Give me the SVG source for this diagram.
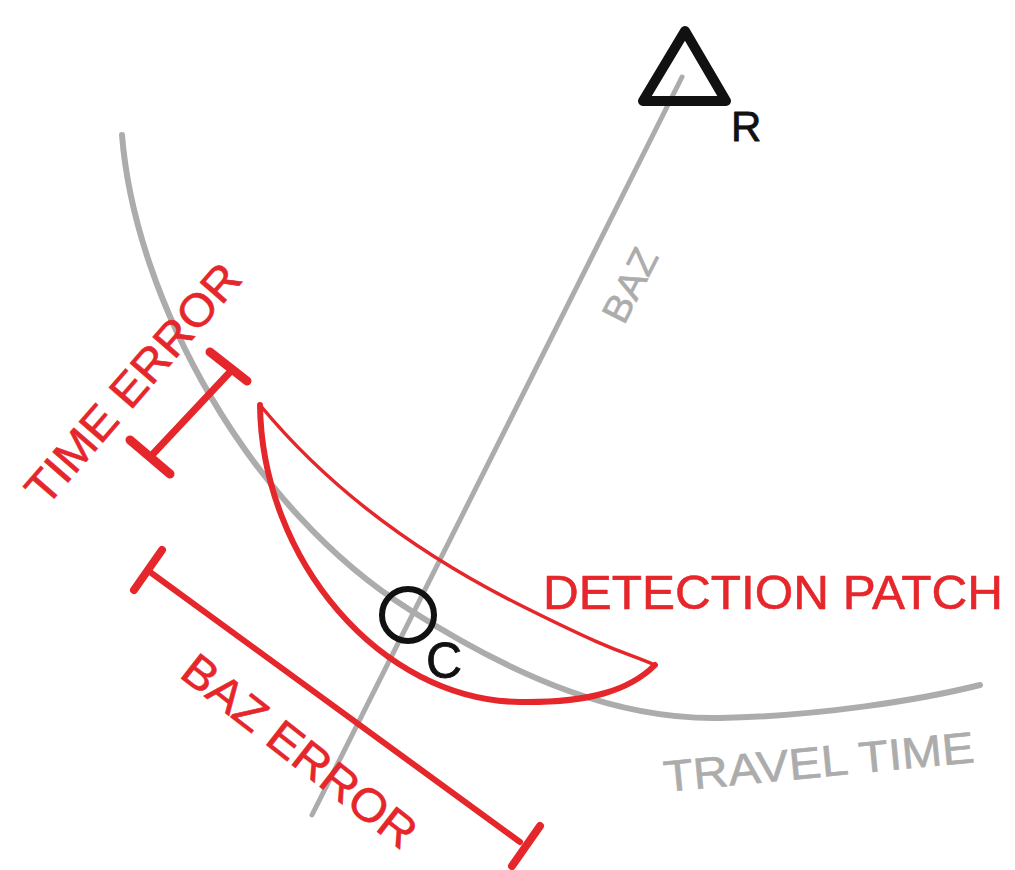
<svg xmlns="http://www.w3.org/2000/svg" width="1015" height="870" viewBox="0 0 1015 870">
<style>
.gray{fill:none;stroke:#acacac;stroke-linecap:round;stroke-linejoin:round}
.red{fill:none;stroke:#e5262b;stroke-linecap:round;stroke-linejoin:round}
.blk{fill:none;stroke:#111;stroke-linecap:round;stroke-linejoin:round}
.t{font-family:"Liberation Sans",Arial,sans-serif;stroke-linejoin:round}
.tr{fill:#e5262b;stroke:#e5262b;stroke-width:0.6}
.tg{fill:#acacac;stroke:#acacac;stroke-width:0.6}
.tb{fill:#111;stroke:#111;stroke-width:0.8}
</style>
<rect width="1015" height="870" fill="#fff"/>
<g id="connectors">
  <path id="travel-time-curve" class="gray" stroke-width="6" d="M122,135 C135,300 250,510 410,610 C520,680 620,720 720,718 C820,716 920,700 980,685"/>
  <path id="baz-line" class="gray" stroke-width="5" d="M682,77 L312,815"/>
</g>
<g id="detection-patch">
  <path class="red" stroke-width="6" d="M260,405 C262,560 380,700 520,702 C590,703 630,690 655,665"/>
  <path class="red" stroke-width="3.5" d="M260,405 C330,490 420,555 520,605 S620,650 655,665"/>
</g>
<g id="time-error-bar">
  <path class="red" stroke-width="7" d="M230,372 L152,455"/>
  <path class="red" stroke-width="9" d="M210,352 L247,381"/>
  <path class="red" stroke-width="9" d="M130,440 L170,474"/>
</g>
<g id="baz-error-bar">
  <path class="red" stroke-width="6" d="M150,572 L520,842"/>
  <path class="red" stroke-width="8" d="M162,550 L134,590"/>
  <path class="red" stroke-width="8" d="M540,826 L512,866"/>
</g>
<g id="receiver">
  <path class="blk" stroke-width="10" d="M685,31 L643,101 L726,101 Z"/>
  <text class="t tb" x="731" y="141" font-size="42">R</text>
</g>
<g id="candidate">
  <circle class="blk" cx="408" cy="615" r="26" stroke-width="6"/>
  <text class="t tb" x="426" y="678" font-size="50">C</text>
</g>
<g id="labels">
  <text class="t tg" font-size="38" transform="translate(624,326) rotate(-63)" textLength="78" lengthAdjust="spacingAndGlyphs">BAZ</text>
  <text class="t tr" font-size="46" transform="translate(46,508) rotate(-49)" textLength="302" lengthAdjust="spacingAndGlyphs">TIME ERROR</text>
  <text class="t tr" font-size="46" transform="translate(178,676) rotate(38)" textLength="284" lengthAdjust="spacingAndGlyphs">BAZ ERROR</text>
  <text class="t tr" font-size="49" x="543" y="609" textLength="460" lengthAdjust="spacingAndGlyphs">DETECTION PATCH</text>
  <text class="t tg" font-size="44" transform="translate(665,792) rotate(-5.5)" textLength="312" lengthAdjust="spacingAndGlyphs">TRAVEL TIME</text>
</g>
</svg>
